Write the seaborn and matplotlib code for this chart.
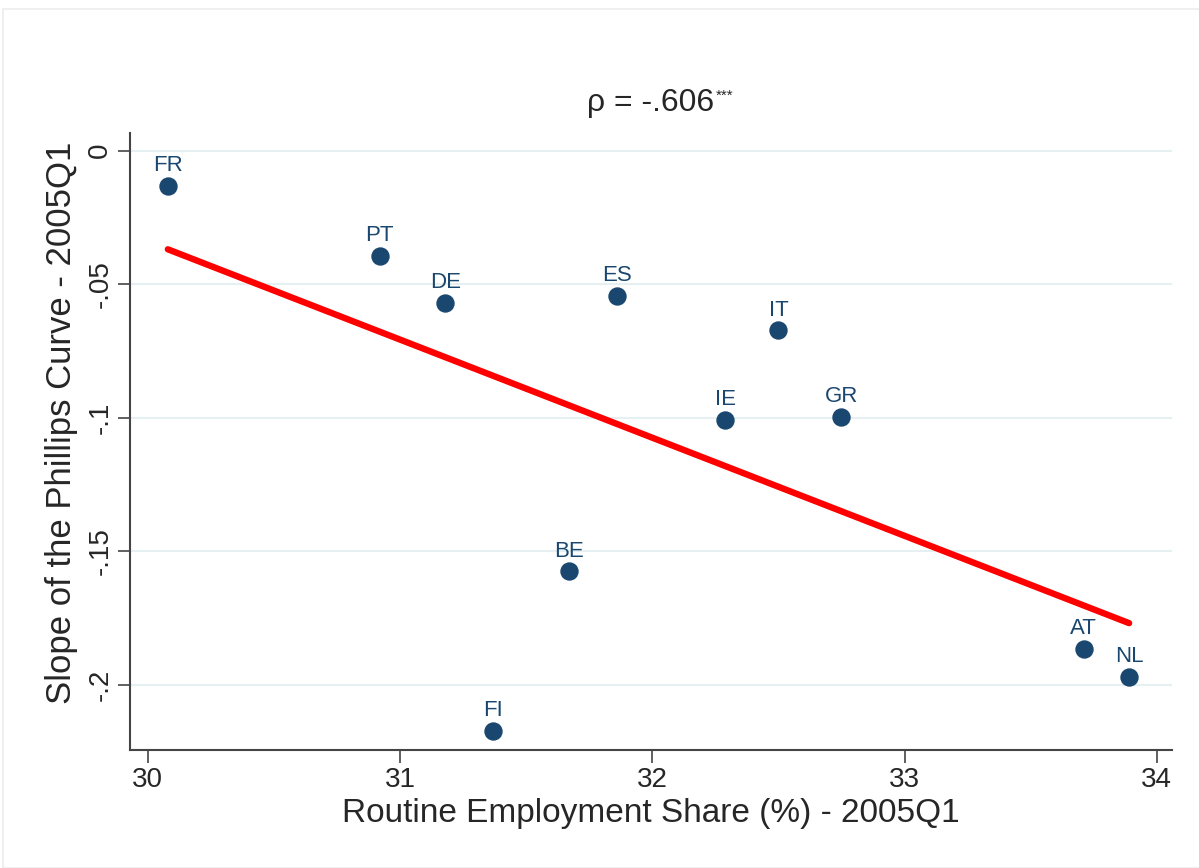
import matplotlib
matplotlib.use("Agg")
import matplotlib.pyplot as plt
import seaborn as sns
import pandas as pd
from matplotlib.patches import Rectangle

# country data
countries = ["FR", "PT", "DE", "ES", "IT", "IE", "GR", "BE", "FI", "AT", "NL"]
routine_share = [30.08, 30.92, 31.18, 31.86, 32.50, 32.29, 32.75, 31.67, 31.37, 33.71, 33.89]
pc_slope = [-0.0132, -0.0395, -0.0571, -0.0545, -0.0673, -0.1008, -0.0996, -0.1575, -0.2173, -0.1865, -0.1970]

x_ticks = [30, 31, 32, 33, 34]
y_ticks = [0, -0.05, -0.1, -0.15, -0.2]
y_tick_labels = ["0", "-.05", "-.1", "-.15", "-.2"]

navy = "#1a476f"

sns.set_style("white")
plt.rcParams['font.family'] = ['Liberation Sans', 'DejaVu Sans']

df = pd.DataFrame({"country": countries, "x": routine_share, "y": pc_slope})

fig = plt.figure(figsize=(11.99, 8.68), dpi=100)
ax = fig.add_axes([130 / 1199, 1 - 750 / 868, (1172 - 130) / 1199, (750 - 133) / 868])

# faint outer frame
fig.patches.append(Rectangle((3 / 1199, 0.0), 1.2, 1 - 9 / 868, transform=fig.transFigure,
                             fill=False, edgecolor="#ececec", lw=1.2))

for yt in y_ticks:
    ax.axhline(yt, color="#e6eff1", lw=1.5, zorder=0)

sns.regplot(data=df, x="x", y="y", ci=None, ax=ax, scatter=False,
            line_kws={"color": "#ff0000", "lw": 4.6, "solid_capstyle": "round"})
sns.scatterplot(data=df, x="x", y="y", ax=ax, color=navy, s=150, edgecolor=navy, zorder=3)

for _, r in df.iterrows():
    ax.annotate(r["country"], (r["x"], r["y"]), xytext=(0, 7), textcoords="offset points",
                ha="center", va="bottom", color=navy, fontsize=16)

ax.set_xlim(29.93, 34.06)
ax.set_ylim(-0.2244, 0.0066)
ax.set_xticks(x_ticks)
ax.set_xticklabels([str(t) for t in x_ticks])
ax.set_yticks(y_ticks)
ax.set_yticklabels(y_tick_labels, rotation=90, va="center")

ax.tick_params(axis="both", direction="out", length=9, width=1.2, color="#444444",
               labelsize=20, pad=3, bottom=True, left=True)
for s in ["top", "right"]:
    ax.spines[s].set_visible(False)
for s in ["left", "bottom"]:
    ax.spines[s].set_color("#444444")
    ax.spines[s].set_linewidth(1.5)

ax.set_xlabel("Routine Employment Share (%) - 2005Q1", fontsize=24, labelpad=4)
ax.set_ylabel("Slope of the Phillips Curve - 2005Q1", fontsize=25)
ax.yaxis.set_label_coords(-0.05, 0.53)
title = ax.set_title("ρ = -.606", fontsize=23, pad=16)
ax.annotate("***", xy=(1, 1), xycoords=title, xytext=(1, -1), textcoords="offset points",
            ha="left", va="top", fontsize=11)

fig.savefig("out.png", dpi=100)
